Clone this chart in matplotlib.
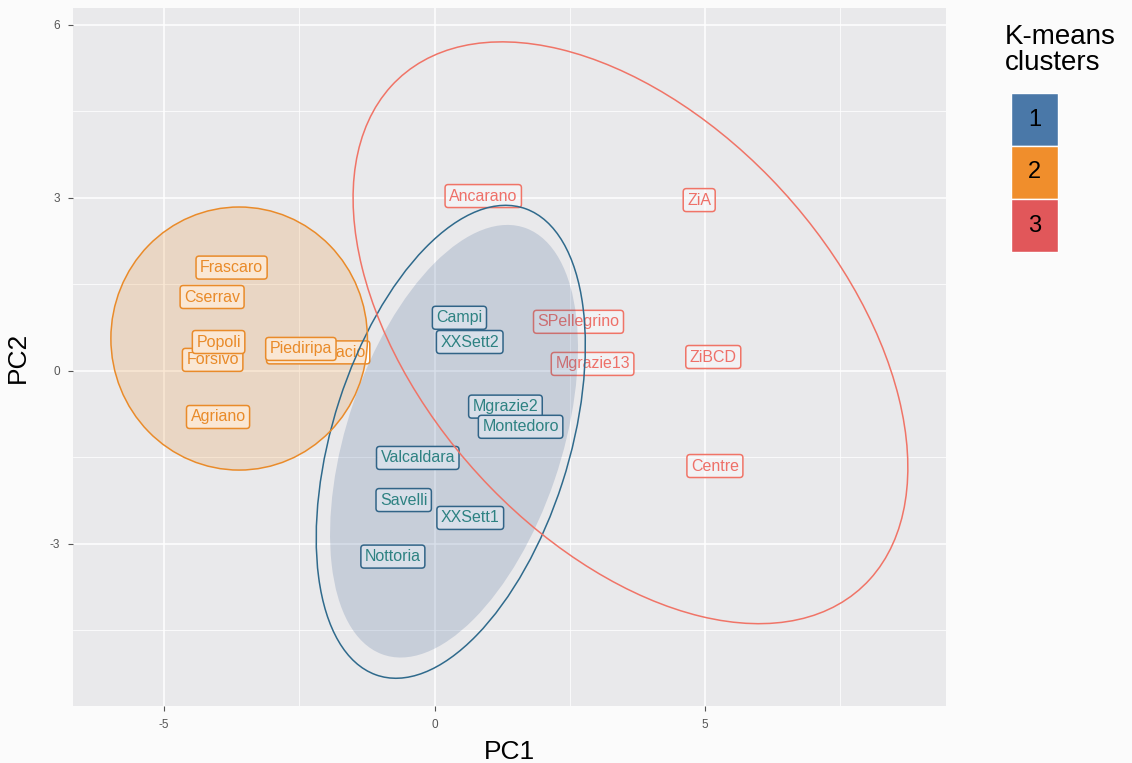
"""K-means clusters on PC1/PC2 with cluster ellipses and labelled sites."""

import matplotlib.pyplot as plt
from matplotlib.patches import Ellipse, Rectangle
from matplotlib.ticker import FixedLocator

plt.rcParams["font.family"] = ["Liberation Sans", "DejaVu Sans"]

# ---- data ----
SITES = [
    "Frascaro", "Cserrav", "Forsivo", "Popoli", "Montelupacio", "Piediripa", "Agriano",
    "Campi", "XXSett2", "Mgrazie2", "Montedoro", "Valcaldara", "Savelli", "XXSett1", "Nottoria",
    "Ancarano", "ZiA", "SPellegrino", "Mgrazie13", "ZiBCD", "Centre",
]
PC1 = [
    -3.75, -4.11, -4.10, -3.99, -2.15, -2.47, -4.00,
    0.46, 0.65, 1.31, 1.59, -0.31, -0.57, 0.66, -0.77,
    0.90, 4.89, 2.66, 2.92, 5.15, 5.18,
]
PC2 = [
    1.79, 1.28, 0.19, 0.50, 0.32, 0.38, -0.80,
    0.92, 0.50, -0.62, -0.97, -1.51, -2.24, -2.55, -3.22,
    3.03, 2.96, 0.85, 0.12, 0.24, -1.65,
]
CLUSTER = [2] * 7 + [1] * 8 + [3] * 6

# ellipses per cluster: centre, full width, full height, angle (data units)
ELL_CLUSTER = [1, 2, 3]
ELL_CX = [0.30, -3.61, 3.62]
ELL_CY = [-1.23, 0.56, 0.66]
ELL_W = [8.54, 4.74, 12.3]
ELL_H = [4.36, 4.56, 7.45]
ELL_ANGLE = [71.0, 0.0, -44.0]
# inner shaded region of cluster 1
FILL_CX, FILL_CY, FILL_W, FILL_H, FILL_ANGLE = 0.36, -1.22, 7.85, 3.95, 70.0

LEGEND_KEYS = ["1", "2", "3"]

# ---- styling ----
EDGE = {1: "#2F6A8C", 2: "#E98B2A", 3: "#F07467"}
TEXT = {1: "#2A8A7E", 2: "#E98B2A", 3: "#EE7069"}
BOX_EDGE = {1: "#2E6584", 2: "#E98B2A", 3: "#F07467"}
BOX_FACE = {1: (1, 1, 1, 1.0), 2: (1, 1, 1, 1.0), 3: (1, 1, 1, 0.45)}
KEY_COLORS = ["#4A78A8", "#F08E2C", "#E1575A"]
PANEL = "#E9E9EB"
BG = "#FBFBFB"

fig = plt.figure(figsize=(11.32, 7.63), dpi=100)
fig.patch.set_facecolor(BG)
ax = fig.add_axes([73 / 1132, 1 - 706 / 763, (946 - 73) / 1132, (706 - 8) / 763])
ax.set_facecolor(PANEL)
ax.set_xlim(-6.68, 9.45)
ax.set_ylim(-5.81, 6.29)

ax.set_xticks([-5, 0, 5])
ax.set_yticks([-3, 0, 3, 6])
ax.xaxis.set_minor_locator(FixedLocator([-2.5, 2.5, 7.5]))
ax.yaxis.set_minor_locator(FixedLocator([-4.5, -1.5, 1.5, 4.5]))
ax.grid(which="major", color="white", lw=1.1, zorder=0)
ax.grid(which="minor", color="white", lw=0.55, zorder=0)
ax.set_axisbelow(True)
ax.tick_params(which="major", length=3.5, width=0.8, color="#555555",
               labelsize=8.5, labelcolor="#555555", pad=6)
ax.tick_params(which="minor", length=0)
ax.set_xticklabels(["-5", "0", "5"])
ax.set_yticklabels(["-3", "0", "3", "6"])
for spine in ax.spines.values():
    spine.set_visible(False)

ax.set_xlabel("PC1", fontsize=19, labelpad=6)
ax.set_ylabel("PC2", fontsize=19, labelpad=14)

# site labels (drawn under the ellipse layers, as in the source plot)
for name, x, y, k in zip(SITES, PC1, PC2, CLUSTER):
    ax.text(x, y, name, fontsize=11.5, color=TEXT[k], ha="center", va="center",
            zorder=2,
            bbox={"boxstyle": "round,pad=0.25,rounding_size=0.2",
                  "facecolor": BOX_FACE[k],
                  "edgecolor": BOX_EDGE[k], "linewidth": 1.1})

# shaded ellipses and outlines on top
ax.add_patch(Ellipse((FILL_CX, FILL_CY), FILL_W, FILL_H, angle=FILL_ANGLE,
                     facecolor="#3F6294", alpha=0.2, edgecolor="none", zorder=3))
for k, cx, cy, w, h, ang in zip(ELL_CLUSTER, ELL_CX, ELL_CY, ELL_W, ELL_H, ELL_ANGLE):
    if k == 2:
        ax.add_patch(Ellipse((cx, cy), w, h, angle=ang, facecolor=EDGE[k],
                             alpha=0.2, edgecolor="none", zorder=3))
    ax.add_patch(Ellipse((cx, cy), w, h, angle=ang, fill=False,
                         edgecolor=EDGE[k], lw=1.1, zorder=4))

# legend
fig.text(1005 / 1132, 1 - 24 / 763, "K-means\nclusters", fontsize=20,
         ha="left", va="top", linespacing=1.0)
key_top = [93, 146, 199]
for lab, col, top in zip(LEGEND_KEYS, KEY_COLORS, key_top):
    fig.patches.append(Rectangle((1011 / 1132, 1 - (top + 53) / 763), 47 / 1132, 53 / 763,
                                 transform=fig.transFigure, facecolor=col,
                                 edgecolor="white", lw=1.0))
    fig.text(1034.5 / 1132, 1 - (top + 26.5) / 763, lab, fontsize=17,
             ha="center", va="center")

fig.savefig("out.png", dpi=100, facecolor=BG)
